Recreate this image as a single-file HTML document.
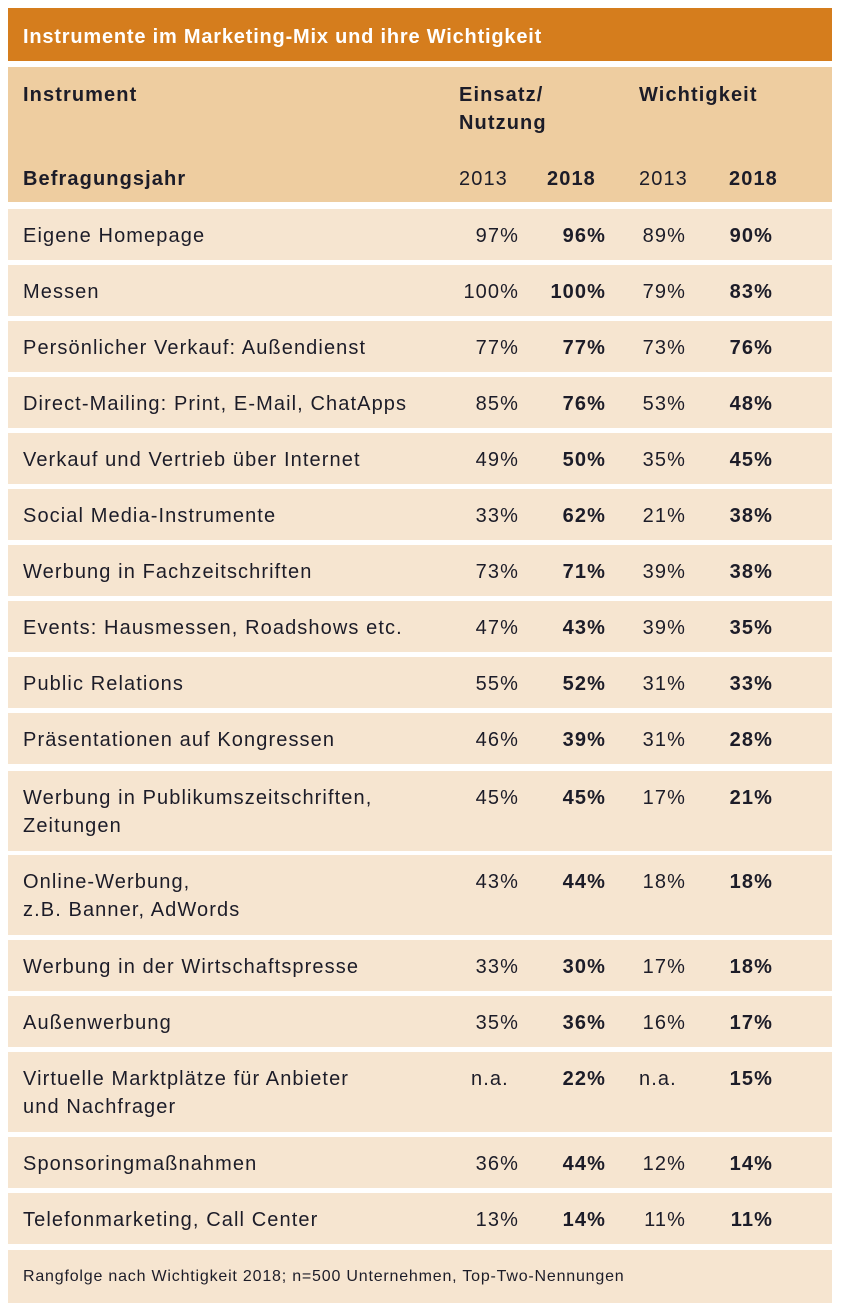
<!DOCTYPE html>
<html><head><meta charset="utf-8"><style>
body{margin:0;width:841px;height:1313px;background:#fff;font-family:"Liberation Sans",sans-serif;color:#1c1c28;position:relative;overflow:hidden}
.b{position:absolute;left:8px;width:824px}
.t{position:absolute;white-space:nowrap;font-size:20px;line-height:28px;letter-spacing:1.1px}
.r{text-align:right}
.bd{font-weight:bold}
</style></head><body>
<div class="b" style="top:8px;height:53px;background:#d57d1d"></div>
<div class="t bd" style="left:23px;top:23px;color:#fff;font-size:20px;letter-spacing:0.8px">Instrumente im Marketing-Mix und ihre Wichtigkeit</div>
<div class="b" style="top:67px;height:135px;background:#eecda0"></div>
<div class="t bd" style="left:23px;top:81px">Instrument</div>
<div class="t bd" style="left:459px;top:81px">Einsatz/<br>Nutzung</div>
<div class="t bd" style="left:639px;top:81px">Wichtigkeit</div>
<div class="t bd" style="left:23px;top:165px">Befragungsjahr</div>
<div class="t" style="left:459px;top:165px">2013</div>
<div class="t bd" style="left:547px;top:165px">2018</div>
<div class="t" style="left:639px;top:165px">2013</div>
<div class="t bd" style="left:729px;top:165px">2018</div>
<div id="rows"></div>
<div class="b" style="top:1250px;height:53px;background:#f6e5d0"></div>
<div class="t" style="left:23px;top:1263px;font-size:16px;letter-spacing:0.8px">Rangfolge nach Wichtigkeit 2018; n=500 Unternehmen, Top-Two-Nennungen</div>
<script>
var d=[
["Eigene Homepage","97%","96%","89%","90%",209,0],
["Messen","100%","100%","79%","83%",265,0],
["Persönlicher Verkauf: Außendienst","77%","77%","73%","76%",321,0],
["Direct-Mailing: Print, E-Mail, ChatApps","85%","76%","53%","48%",377,0],
["Verkauf und Vertrieb über Internet","49%","50%","35%","45%",433,0],
["Social Media-Instrumente","33%","62%","21%","38%",489,0],
["Werbung in Fachzeitschriften","73%","71%","39%","38%",545,0],
["Events: Hausmessen, Roadshows etc.","47%","43%","39%","35%",601,0],
["Public Relations","55%","52%","31%","33%",657,0],
["Präsentationen auf Kongressen","46%","39%","31%","28%",713,0],
["Werbung in Publikumszeitschriften,<br>Zeitungen","45%","45%","17%","21%",771,1],
["Online-Werbung,<br>z.B. Banner, AdWords","43%","44%","18%","18%",855,1],
["Werbung in der Wirtschaftspresse","33%","30%","17%","18%",940,0],
["Außenwerbung","35%","36%","16%","17%",996,0],
["Virtuelle Marktplätze für Anbieter<br>und Nachfrager","n.a.","22%","n.a.","15%",1052,1],
["Sponsoringmaßnahmen","36%","44%","12%","14%",1137,0],
["Telefonmarketing, Call Center","13%","14%","11%","11%",1193,0]];
var h="";
d.forEach(function(r){var y=r[5],ht=r[6]?80:51,ty=y+13;
h+='<div class="b" style="top:'+y+'px;height:'+ht+'px;background:#f6e5d0"></div>';
h+='<div class="t" style="left:23px;top:'+ty+'px">'+r[0]+'</div>';
if(r[1]=="n.a."){h+='<div class="t" style="left:471px;top:'+ty+'px">n.a.</div>';}
else h+='<div class="t r" style="right:322px;top:'+ty+'px">'+r[1]+'</div>';
h+='<div class="t r bd" style="right:235px;top:'+ty+'px">'+r[2]+'</div>';
if(r[3]=="n.a."){h+='<div class="t" style="left:639px;top:'+ty+'px">n.a.</div>';}
else h+='<div class="t r" style="right:155px;top:'+ty+'px">'+r[3]+'</div>';
h+='<div class="t r bd" style="right:68px;top:'+ty+'px">'+r[4]+'</div>';});
document.getElementById("rows").innerHTML=h;
</script>
</body></html>
